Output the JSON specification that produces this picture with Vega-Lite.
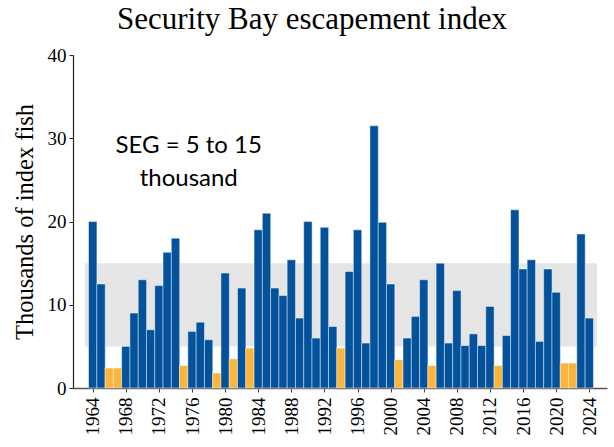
{
  "$schema": "https://vega.github.io/schema/vega-lite/v6.json",
  "width": 534,
  "height": 333,
  "autosize": {"type": "none"},
  "padding": {"left": 73, "top": 55, "right": 7, "bottom": 59},
  "background": "white",
  "config": {
    "view": {"stroke": null},
    "axisX": {"labelOverlap": false, "labelFlush": false}
  },
  "title": {
    "text": "Security Bay escapement index",
    "font": "Liberation Serif",
    "fontSize": 31,
    "fontWeight": "normal",
    "color": "#000000",
    "anchor": "middle",
    "frame": "group",
    "baseline": "alphabetic",
    "dx": -28,
    "offset": -14
  },
  "datasets": {
    "fish": [
      {"year": 1964, "value": 20.0, "status": "above"},
      {"year": 1965, "value": 12.5, "status": "above"},
      {"year": 1966, "value": 2.4, "status": "below"},
      {"year": 1967, "value": 2.4, "status": "below"},
      {"year": 1968, "value": 5.0, "status": "above"},
      {"year": 1969, "value": 9.0, "status": "above"},
      {"year": 1970, "value": 13.0, "status": "above"},
      {"year": 1971, "value": 7.0, "status": "above"},
      {"year": 1972, "value": 12.3, "status": "above"},
      {"year": 1973, "value": 16.3, "status": "above"},
      {"year": 1974, "value": 18.0, "status": "above"},
      {"year": 1975, "value": 2.7, "status": "below"},
      {"year": 1976, "value": 6.8, "status": "above"},
      {"year": 1977, "value": 7.9, "status": "above"},
      {"year": 1978, "value": 5.8, "status": "above"},
      {"year": 1979, "value": 1.8, "status": "below"},
      {"year": 1980, "value": 13.8, "status": "above"},
      {"year": 1981, "value": 3.5, "status": "below"},
      {"year": 1982, "value": 12.0, "status": "above"},
      {"year": 1983, "value": 4.8, "status": "below"},
      {"year": 1984, "value": 19.0, "status": "above"},
      {"year": 1985, "value": 21.0, "status": "above"},
      {"year": 1986, "value": 12.0, "status": "above"},
      {"year": 1987, "value": 11.1, "status": "above"},
      {"year": 1988, "value": 15.4, "status": "above"},
      {"year": 1989, "value": 8.4, "status": "above"},
      {"year": 1990, "value": 20.0, "status": "above"},
      {"year": 1991, "value": 6.0, "status": "above"},
      {"year": 1992, "value": 19.3, "status": "above"},
      {"year": 1993, "value": 7.4, "status": "above"},
      {"year": 1994, "value": 4.8, "status": "below"},
      {"year": 1995, "value": 14.0, "status": "above"},
      {"year": 1996, "value": 19.0, "status": "above"},
      {"year": 1997, "value": 5.4, "status": "above"},
      {"year": 1998, "value": 31.5, "status": "above"},
      {"year": 1999, "value": 19.9, "status": "above"},
      {"year": 2000, "value": 12.5, "status": "above"},
      {"year": 2001, "value": 3.4, "status": "below"},
      {"year": 2002, "value": 6.0, "status": "above"},
      {"year": 2003, "value": 8.6, "status": "above"},
      {"year": 2004, "value": 13.0, "status": "above"},
      {"year": 2005, "value": 2.7, "status": "below"},
      {"year": 2006, "value": 15.0, "status": "above"},
      {"year": 2007, "value": 5.4, "status": "above"},
      {"year": 2008, "value": 11.7, "status": "above"},
      {"year": 2009, "value": 5.1, "status": "above"},
      {"year": 2010, "value": 6.5, "status": "above"},
      {"year": 2011, "value": 5.1, "status": "above"},
      {"year": 2012, "value": 9.8, "status": "above"},
      {"year": 2013, "value": 2.7, "status": "below"},
      {"year": 2014, "value": 6.3, "status": "above"},
      {"year": 2015, "value": 21.4, "status": "above"},
      {"year": 2016, "value": 14.3, "status": "above"},
      {"year": 2017, "value": 15.4, "status": "above"},
      {"year": 2018, "value": 5.6, "status": "above"},
      {"year": 2019, "value": 14.3, "status": "above"},
      {"year": 2020, "value": 11.5, "status": "above"},
      {"year": 2021, "value": 3.0, "status": "below"},
      {"year": 2022, "value": 3.0, "status": "below"},
      {"year": 2023, "value": 18.5, "status": "above"},
      {"year": 2024, "value": 8.4, "status": "above"}
    ],
    "goal": [{"lower": 5, "upper": 15}]
  },
  "layer": [
    {
      "data": {"name": "goal"},
      "mark": {"type": "rect", "color": "#e5e5e5"},
      "encoding": {
        "x": {
          "datum": 1963.05,
          "type": "quantitative",
          "scale": {"domain": [1962.22, 2025.54], "nice": false, "zero": false},
          "axis": {
            "title": null,
            "values": [1964, 1968, 1972, 1976, 1980, 1984, 1988, 1992, 1996, 2000, 2004, 2008, 2012, 2016, 2020, 2024],
            "tickCount": 40,
            "format": "d",
            "labelAngle": -90,
            "labelAlign": "right",
            "labelBaseline": "middle",
            "labelOverlap": false,
            "labelFlush": false,
            "labelFont": "Liberation Serif",
            "labelFontSize": 19,
            "labelColor": "#000000",
            "labelPadding": 5,
            "tickSize": 4,
            "tickColor": "#444444",
            "domainColor": "#555555",
            "domainWidth": 1.5,
            "grid": false
          }
        },
        "x2": {"datum": 2024.95},
        "y": {
          "field": "lower",
          "type": "quantitative",
          "scale": {"domain": [0, 40], "nice": false},
          "axis": {
            "title": "Thousands of index fish",
            "titleFont": "Liberation Serif",
            "titleFontSize": 24.5,
            "titleFontWeight": "normal",
            "titleColor": "#000000",
            "titlePadding": 10,
            "values": [0, 10, 20, 30, 40],
            "tickCount": 10,
            "labelFont": "Liberation Serif",
            "labelFontSize": 19,
            "labelColor": "#000000",
            "labelPadding": 3,
            "labelFlush": false,
            "tickSize": 4,
            "tickColor": "#222222",
            "domainColor": "#222222",
            "domainWidth": 1.2,
            "grid": false
          }
        },
        "y2": {"field": "upper"}
      }
    },
    {
      "data": {"name": "fish"},
      "mark": {"type": "bar", "width": 8.4, "stroke": "#ffffff", "strokeWidth": 0.8, "strokeOpacity": 0.6},
      "encoding": {
        "x": {"field": "year", "type": "quantitative"},
        "y": {"field": "value", "type": "quantitative"},
        "color": {
          "field": "status",
          "type": "nominal",
          "scale": {"domain": ["above", "below"], "range": ["#03529b", "#fdb43b"]},
          "legend": null
        }
      }
    },
    {
      "data": {"values": [{}]},
      "mark": {
        "type": "text",
        "text": ["SEG = 5 to 15", "thousand"],
        "font": "Lato",
        "fontSize": 24,
        "lineHeight": 33,
        "align": "center",
        "baseline": "alphabetic",
        "color": "#000000"
      },
      "encoding": {
        "x": {"datum": 1975.6, "type": "quantitative"},
        "y": {"datum": 28.2, "type": "quantitative"}
      }
    }
  ]
}
